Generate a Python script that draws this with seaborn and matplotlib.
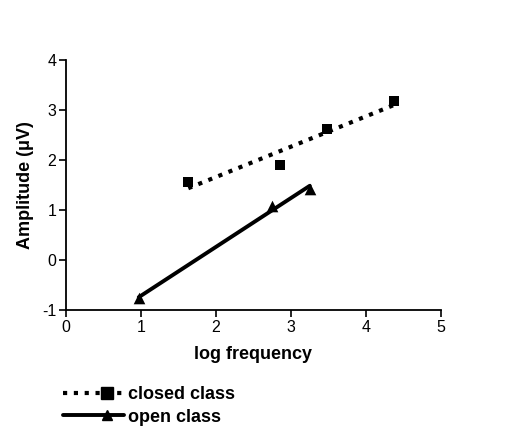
import matplotlib
matplotlib.use("Agg")
import matplotlib.pyplot as plt
from matplotlib.lines import Line2D
from matplotlib.legend_handler import HandlerLine2D
import numpy as np
import seaborn as sns
import pandas as pd

# Data
closed_x = [1.63, 2.85, 3.48, 4.37]
closed_y = [1.57, 1.90, 2.62, 3.18]
open_x = [0.97, 2.75, 3.25]
open_y = [-0.76, 1.08, 1.42]
x_ticks = [0, 1, 2, 3, 4, 5]
y_ticks = [-1, 0, 1, 2, 3, 4]
labels = ["closed class", "open class"]

sns.set_theme(style="ticks")
plt.rcParams['font.family'] = ['Liberation Sans', 'DejaVu Sans']
plt.rcParams['text.color'] = 'black'
plt.rcParams['axes.labelcolor'] = 'black'
plt.rcParams['xtick.color'] = 'black'
plt.rcParams['ytick.color'] = 'black'


class MarkerRightHandler(HandlerLine2D):
    def create_artists(self, legend, orig_handle, xdescent, ydescent,
                       width, height, fontsize, trans):
        xdata, _ = self.get_xdata(legend, xdescent, ydescent, width, height, fontsize)
        x0, x1 = xdata[0], xdata[-1]
        xs = [x0, x0 + 0.72 * (x1 - x0), x1]
        ys = np.full(3, (height - ydescent) / 2)
        legline = Line2D(xs, ys)
        self.update_prop(legline, orig_handle, legend)
        legline.set_markevery([1])
        legline.set_transform(trans)
        return [legline]


fig = plt.figure(figsize=(5.29, 4.38), dpi=100)
ax = fig.add_axes([0.1248, 0.292, 0.7088, 0.571])

closed = pd.DataFrame({"x": closed_x, "y": closed_y})
opn = pd.DataFrame({"x": open_x, "y": open_y})

sns.regplot(data=closed, x="x", y="y", ax=ax, ci=None, truncate=True,
            marker="s", color="black",
            scatter_kws=dict(s=60, alpha=1, linewidths=0, zorder=3),
            line_kws=dict(lw=3, linestyle=(0, (1, 1.6)), dash_capstyle="butt"))
sns.regplot(data=opn, x="x", y="y", ax=ax, ci=None, truncate=True,
            marker="^", color="black",
            scatter_kws=dict(s=70, alpha=1, linewidths=0, zorder=3),
            line_kws=dict(lw=2.8, linestyle="-"))

ax.set_xlim(0, 5)
ax.set_ylim(-1, 4)
ax.set_xticks(x_ticks)
ax.set_yticks(y_ticks)
ax.set_xticklabels([str(t) for t in x_ticks], fontsize=11.5)
ax.set_yticklabels([str(t) for t in y_ticks], fontsize=11.5)
ax.tick_params(direction="out", length=5, width=1.2, colors="black", pad=2)
for s in ["top", "right"]:
    ax.spines[s].set_visible(False)
for s in ["left", "bottom"]:
    ax.spines[s].set_linewidth(1.3)
    ax.spines[s].set_color("black")

ax.set_xlabel("log frequency", fontsize=13, fontweight="bold", labelpad=8)
ax.set_ylabel("Amplitude (\u03bcV)", fontsize=13, fontweight="bold", labelpad=6)

handles = [
    Line2D([], [], color="black", lw=3, linestyle=(0, (1, 1.6)), marker="s", markersize=8),
    Line2D([], [], color="black", lw=2.8, linestyle="-", marker="^", markersize=7),
]
fig.legend(handles, labels, loc="upper left", bbox_to_anchor=(0.105, 0.135),
           frameon=False, handlelength=3.4, handletextpad=0.2, labelspacing=0.3,
           prop=dict(size=13, weight="bold"), borderaxespad=0,
           handler_map={Line2D: MarkerRightHandler()})

fig.savefig("out.png", dpi=100)
